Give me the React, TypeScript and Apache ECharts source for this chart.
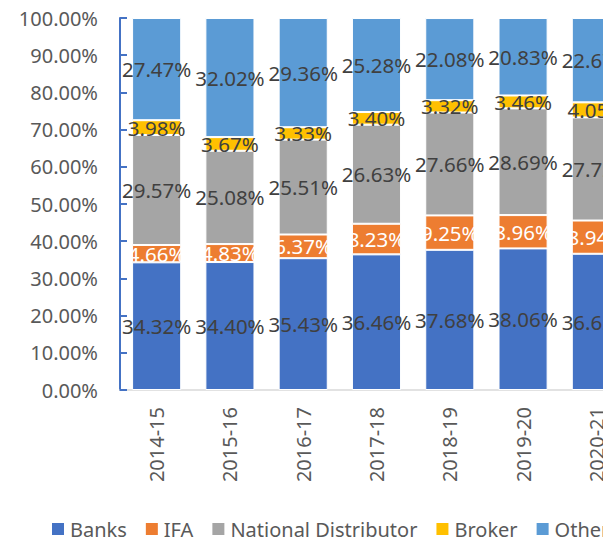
import React, { useEffect, useRef } from "react";
import * as echarts from "echarts";

const categories = ["2014-15", "2015-16", "2016-17", "2017-18", "2018-19", "2019-20", "2020-21"];
const banks = [34.32, 34.40, 35.43, 36.46, 37.68, 38.06, 36.62];
const ifa = [4.66, 4.83, 6.37, 8.23, 9.25, 8.96, 8.94];
const nationalDistributor = [29.57, 25.08, 25.51, 26.63, 27.66, 28.69, 27.72];
const broker = [3.98, 3.67, 3.33, 3.40, 3.32, 3.46, 4.05];
const others = [27.47, 32.02, 29.36, 25.28, 22.08, 20.83, 22.67];

const FONT = "'Noto Sans', 'Open Sans', sans-serif";

export default function App() {
  const ref = useRef<HTMLDivElement>(null);
  useEffect(() => {
    if (!ref.current) return;
    const chart = echarts.init(ref.current, undefined, { renderer: "svg" });
    const mk = (name: string, data: number[], color: string, labelColor: string) => ({
      name,
      type: "bar",
      stack: "total",
      data,
      barWidth: "67%",
      itemStyle: { color, borderColor: "#ffffff", borderWidth: 1 },
      label: {
        show: true,
        position: "inside",
        formatter: (p: any) => p.value.toFixed(2) + "%",
        color: labelColor,
        fontSize: 20.5,
        fontFamily: FONT,
      },
    });
    chart.setOption({
      animation: false,
      textStyle: { fontFamily: FONT },
      grid: { left: 120, top: 18, width: 513, height: 372, containLabel: false },
      legend: {
        left: 45,
        top: 514,
        itemWidth: 14,
        itemHeight: 14,
        itemGap: 17,
        icon: "rect",
        textStyle: { color: "#595959", fontSize: 20, fontFamily: FONT },
        data: ["Banks", "IFA", "National Distributor", "Broker", "Others"],
      },
      xAxis: {
        type: "category",
        data: categories,
        axisLine: { lineStyle: { color: "#D9D9D9", width: 1.5 } },
        axisTick: { show: false },
        axisLabel: { rotate: 90, margin: 17, color: "#595959", fontSize: 20, fontFamily: FONT },
      },
      yAxis: {
        type: "value",
        min: 0,
        max: 100,
        interval: 10,
        splitLine: { show: false },
        axisLine: { show: true, lineStyle: { color: "#4472C4", width: 2 } },
        axisTick: { show: true, inside: true, length: 7, lineStyle: { color: "#4472C4", width: 2 } },
        axisLabel: {
          margin: 22,
          color: "#595959",
          fontSize: 20,
          fontFamily: FONT,
          formatter: (v: number) => v.toFixed(2) + "%",
        },
      },
      series: [
        mk("Banks", banks, "#4472C4", "#404040"),
        mk("IFA", ifa, "#ED7D31", "#ffffff"),
        mk("National Distributor", nationalDistributor, "#A5A5A5", "#404040"),
        mk("Broker", broker, "#FFC000", "#404040"),
        mk("Others", others, "#5B9BD5", "#404040"),
      ],
    });
    return () => chart.dispose();
  }, []);
  return (
    <div style={{ position: "fixed", left: 0, top: 0, width: 603, height: 537, overflow: "hidden", background: "#fff" }}>
      <div ref={ref} style={{ width: 720, height: 537 }} />
    </div>
  );
}
